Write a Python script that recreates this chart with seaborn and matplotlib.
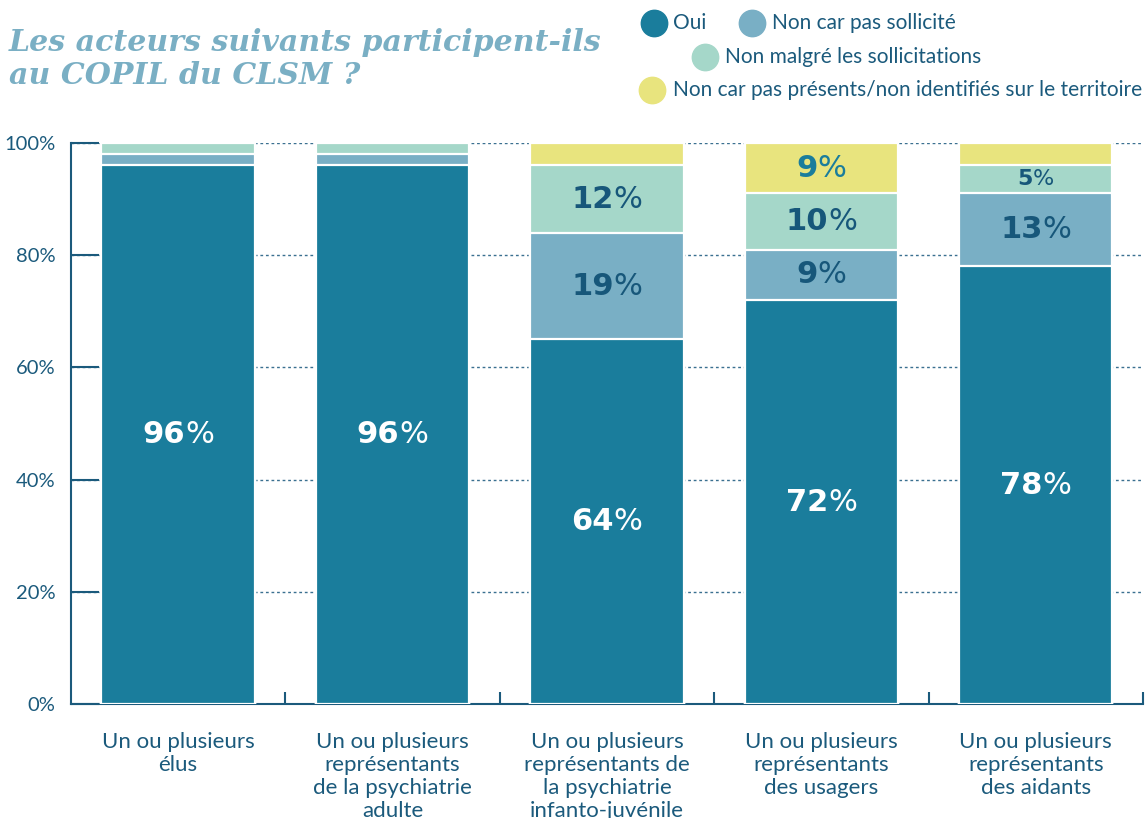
import matplotlib
matplotlib.use("Agg")
import matplotlib.pyplot as plt
from matplotlib.lines import Line2D
from matplotlib.transforms import ScaledTranslation
import seaborn as sns
import numpy as np

categories = [
    "Un ou plusieurs\nélus",
    "Un ou plusieurs\nreprésentants\nde la psychiatrie\nadulte",
    "Un ou plusieurs\nreprésentants de\nla psychiatrie\ninfanto-juvénile",
    "Un ou plusieurs\nreprésentants\ndes usagers",
    "Un ou plusieurs\nreprésentants\ndes aidants",
]
series_names = [
    "Oui",
    "Non car pas sollicité",
    "Non malgré les sollicitations",
    "Non car pas présents/non identifiés sur le territoire",
]
oui = [96, 96, 65, 72, 78]
non_sollicite = [2, 2, 19, 9, 13]
non_malgre = [2, 2, 12, 10, 5]
non_absents = [0, 0, 4, 9, 4]

oui_labels = ["96", "96", "64", "72", "78"]
sollicite_labels = [None, None, "19", "9", "13"]
malgre_labels = [None, None, "12", "10", "5"]
absents_labels = [None, None, None, "9", None]

colors = ["#1a7d9c", "#79afc5", "#a5d7c9", "#e8e47e"]
navy = "#1b5a7c"
txt_font = ["Lato", "DejaVu Sans"]

sns.set_style("white")
plt.rcParams["font.family"] = txt_font

fig = plt.figure(figsize=(11.48, 8.18), dpi=100)
ax = fig.add_axes([0.0618, 0.1394, 0.9338, 0.6858])

layers = [oui, non_sollicite, non_malgre, non_absents]
cum = np.cumsum(np.array(layers, dtype=float), axis=0)

# draw stacked bars from the top layer down
for k in range(len(layers) - 1, -1, -1):
    sns.barplot(x=categories, y=cum[k], color=colors[k], saturation=1,
                width=0.715, edgecolor="white", linewidth=1.6, ax=ax, zorder=3)

ax.set_xlim(-0.5, 4.5)
ax.set_ylim(0, 100)

ax.set_yticks(range(0, 101, 20))
ax.set_yticklabels([f"{v}%" for v in range(0, 101, 20)])
ax.yaxis.grid(True, linestyle=(0, (2, 2)), color="#3a7090", linewidth=1)
ax.xaxis.grid(False)
ax.set_axisbelow(True)
ax.tick_params(axis="y", left=True, direction="in", length=20, width=1.5,
               color=navy, pad=11, labelsize=14.5, labelcolor=navy)
ax.set_xticks(range(len(categories)))
ax.set_xticklabels(categories, linespacing=1.2)
ax.set_xticks(np.arange(0.5, 5, 1), minor=True)
ax.tick_params(axis="x", which="major", bottom=False, length=0, pad=20,
               labelsize=16, labelcolor=navy)
ax.tick_params(axis="x", which="minor", bottom=True, direction="in", length=9,
               width=1.5, color=navy)
ax.set_xlabel("")
ax.set_ylabel("")
for s in ["top", "right"]:
    ax.spines[s].set_visible(False)
for s in ["left", "bottom"]:
    ax.spines[s].set_color(navy)
    ax.spines[s].set_linewidth(1.5)

# value labels: bold number + light "%"
pairs = []
def pct_label(x, y, num, color, size):
    t1 = ax.text(x, y, num, ha="right", va="center", fontsize=size,
                 fontweight="bold", color=color, family="DejaVu Sans", zorder=5)
    t2 = ax.text(x, y, "%", ha="left", va="center", fontsize=size,
                 color=color, family="DejaVu Sans", zorder=5)
    pairs.append((t1, t2))

label_sets = [oui_labels, sollicite_labels, malgre_labels, absents_labels]
label_colors = ["white", "#17577a", "#17577a", "#1a7d9c"]
for k, labs in enumerate(label_sets):
    bottoms = cum[k] - np.array(layers[k])
    for i, lab in enumerate(labs):
        if lab is None:
            continue
        size = 16 if layers[k][i] < 8 and k != 3 else 22
        pct_label(i, bottoms[i] + layers[k][i] / 2, lab, label_colors[k], size)

fig.canvas.draw()
r = fig.canvas.get_renderer()
for t1, t2 in pairs:
    w1 = t1.get_window_extent(r).width
    w2 = t2.get_window_extent(r).width
    dx = (w1 - w2) / 2 / fig.dpi
    off = ScaledTranslation(dx, 0, fig.dpi_scale_trans)
    t1.set_transform(ax.transData + off)
    t2.set_transform(ax.transData + off)

# title
fig.text(0.008, 0.966, "Les acteurs suivants participent-ils\nau COPIL du CLSM ?",
         ha="left", va="top", fontsize=21.6, family="DejaVu Serif",
         style="italic", fontweight="bold", color="#7aafc4", linespacing=1.2)

# legend
W, H = 1148, 818
legend_pos = [(654, 23, 673), (752, 23, 772), (705, 57, 725), (652, 90, 673)]
for (cx, cy, tx), name, c in zip(legend_pos, series_names, colors):
    fig.add_artist(Line2D([cx / W], [1 - cy / H], marker="o", markersize=19,
                          color=c, linestyle="none", transform=fig.transFigure))
    fig.text(tx / W, 1 - cy / H, name, ha="left", va="center", fontsize=15,
             color=navy)

fig.savefig("out.png", dpi=100)
